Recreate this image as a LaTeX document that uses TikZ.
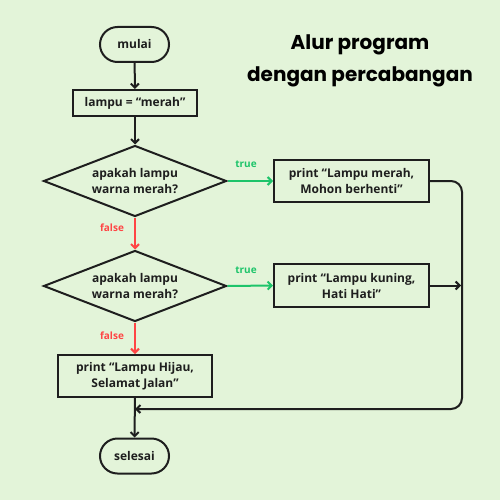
\documentclass[tikz,border=0pt]{standalone}
\usepackage{fontspec}
\setmainfont{Open Sans}
\newfontfamily\titlefont{Poppins}
\usetikzlibrary{arrows.meta,shapes.misc,shapes.geometric}
\definecolor{bg}{HTML}{E3F4D9}
\definecolor{ink}{HTML}{1E1E1E}
\definecolor{tgreen}{HTML}{1DC46A}
\definecolor{fred}{HTML}{FF4545}
\tikzset{
  base/.style={draw=ink, line width=2pt, text=ink, font=\fontsize{12}{16}\selectfont\bfseries, align=center, inner sep=0pt},
  term/.style={base, rounded rectangle, minimum width=69pt, minimum height=35pt},
  proc/.style={base, rectangle, minimum height=42pt},
  dec/.style={base, diamond, aspect=2.58, minimum width=183pt, minimum height=71pt},
  conn/.style={draw=ink, line width=2pt, -{Straight Barb[length=4pt,width=8pt,line width=2pt]}},
  tconn/.style={conn, draw=tgreen},
  fconn/.style={conn, draw=fred},
  tlabel/.style={text=tgreen, font=\fontsize{10}{12}\selectfont\bfseries},
  flabel/.style={text=fred, font=\fontsize{10}{12}\selectfont\bfseries},
}
\begin{document}
\begin{tikzpicture}[x=1pt,y=-1pt]
\fill[bg] (0,0) rectangle (500,500);
\useasboundingbox (0,0) rectangle (500,500);
\node[font=\titlefont\fontsize{20}{32}\selectfont\bfseries, align=center, text=black] (title) at (360,61) {Alur program\\dengan percabangan};
\node[term] (mulai) at (134.5,44.5) {mulai};
\node[proc, minimum width=124pt, minimum height=26pt] (init) at (135,103) {lampu = “merah”};
\node[dec] (d1) at (135,181) {apakah lampu\\warna merah?};
\node[proc, minimum width=155pt] (merah) at (351.5,181) {print “Lampu merah,\\Mohon berhenti”};
\node[dec] (d2) at (135,286) {apakah lampu\\warna merah?};
\node[proc, minimum width=155pt, minimum height=43pt] (kuning) at (351.5,285.5) {print “Lampu kuning,\\Hati Hati”};
\node[proc, minimum width=154pt] (hijau) at (135,376) {print “Lampu Hijau,\\Selamat Jalan”};
\node[term] (selesai) at (134.5,456) {selesai};
\coordinate (rt) at (462,0);
\coordinate (join) at (135,409);
\draw[conn] (mulai) -- (init);
\draw[conn] (init) -- (d1);
\draw[tconn] (d1.east) -- (merah.west);
\draw[fconn] (d1.south) -- (d2.north);
\draw[tconn] (d2.east) -- (kuning.west);
\draw[fconn] (d2.south) -- (hijau.north);
\draw[conn] (hijau) -- (selesai);
\draw[conn, rounded corners=11pt] (merah.east) -| (rt |- join) -- (join);
\draw[conn] (kuning.east) -- ([xshift=-1pt]kuning.east -| rt);
\node[tlabel] (t1) at (246,164) {true};
\node[tlabel] (t2) at (246,270) {true};
\node[flabel] (f1) at (112,228) {false};
\node[flabel] (f2) at (112,336) {false};
\end{tikzpicture}
\end{document}
